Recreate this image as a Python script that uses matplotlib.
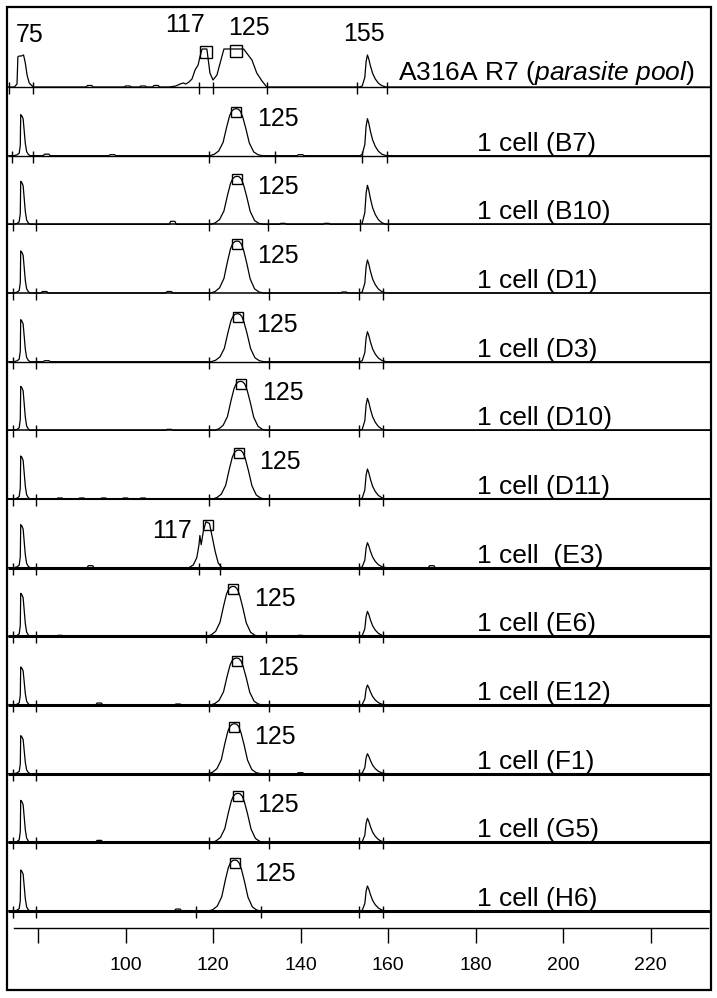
import matplotlib
matplotlib.use('Agg')
import matplotlib.pyplot as plt
from matplotlib.patches import Rectangle
import numpy as np

plt.rcParams['font.family'] = ['Liberation Sans', 'DejaVu Sans']
plt.rcParams['mathtext.fontset'] = 'custom'
plt.rcParams['mathtext.rm'] = 'Liberation Sans'
plt.rcParams['mathtext.it'] = 'Liberation Sans:italic'

# ---------------- data ----------------
samples = ["A316A R7 ($\\it{parasite\\ pool}$)", "1 cell (B7)", "1 cell (B10)", "1 cell (D1)",
           "1 cell (D3)", "1 cell (D10)", "1 cell (D11)", "1 cell  (E3)", "1 cell (E6)",
           "1 cell (E12)", "1 cell (F1)", "1 cell (G5)", "1 cell (H6)"]
allele_label = ["125", "125", "125", "125", "125", "125", "125", "117", "125", "125", "125", "125", "125"]

peak75_center = 76.4
peak75_height = [31, 41, 43, 42, 42, 44, 43, 43, 43, 38, 38, 42, 41]
main_center = [125.3, 125.3, 125.5, 125.5, 125.6, 126.3, 125.9, 118.9, 124.6, 125.4, 124.9, 125.7, 125.0]
main_height = [38, 47, 48, 52, 48, 49, 49, 46, 50, 47, 50, 49, 51]
peak155_center = 155.3
peak155_height = [32, 37, 39, 33, 30, 32, 30, 25, 25, 20, 20, 24, 25]

# shapes (offset from peak top, relative height)
p75_dx = [-1.9, -1.2, -0.7, -0.45, -0.35, -0.1, 0.2, 0.45, 0.7, 1.0, 1.4, 1.8]
p75_rel = [0, 0.02, 0.06, 0.25, 1.0, 0.97, 0.9, 0.6, 0.3, 0.1, 0.03, 0]
p125_dx = [-6.0, -5.0, -4.0, -3.0, -2.2, -1.5, -1.0, -0.5, 0, 0.5, 1.0, 1.5, 2.2, 3.0, 4.0, 5.0, 6.0]
p125_rel = [0, 0.03, 0.1, 0.28, 0.6, 0.85, 0.95, 0.99, 1, 0.99, 0.94, 0.82, 0.58, 0.27, 0.08, 0.02, 0]
p155_dx = [-1.8, -1.2, -0.6, -0.3, 0, 0.3, 0.7, 1.2, 1.8, 2.5, 3.3, 4.3]
p155_rel = [0, 0.03, 0.3, 0.8, 1, 0.88, 0.65, 0.42, 0.25, 0.12, 0.04, 0]
p117_dx = [-4.4, -3.4, -2.6, -2.1, -1.9, -1.6, -1.1, -0.5, 0.3, 0.9, 1.6, 2.3, 3.1]
p117_rel = [0, 0.06, 0.22, 0.5, 0.70, 0.5, 0.8, 1.0, 0.96, 0.68, 0.35, 0.1, 0]

# pool sample (panel 1): explicit trace around 75 and 117/125
pool75_x = [74.6, 75.2, 75.4, 75.7, 76.2, 76.7, 77.1, 77.5, 78.0, 78.9]
pool75_h = [0, 3, 30, 31, 31, 32, 24, 12, 4, 0]
pool_x = [110.0, 111.5, 112.5, 113.2, 113.8, 114.5, 115.2, 115.9, 116.6, 117.0, 117.5, 118.6,
          119.3, 120.0, 120.9, 122.0, 122.5, 127.0, 128.9, 130.0, 131.2, 132.3]
pool_h = [0, 1, 3, 4, 3, 5, 8, 17, 22, 30, 38, 38, 14, 7, 12, 30, 38, 38, 27, 14, 6, 0]

# small baseline bumps (position, height)
bumps = [[(91.8, 1.5), (100.5, 1.0), (104.0, 1.0), (107.0, 1.5)],
         [(82.0, 1.5), (97.0, 1.0), (140.0, 1.0)],
         [(110.8, 3.0), (136.0, 1.0), (146.0, 1.0)],
         [(81.5, 1.5), (110.0, 1.5), (150.0, 1.0)],
         [(82.0, 1.0)], [(110.0, 1.0)],
         [(85.0, 1.0), (90.0, 1.0), (95.0, 1.0), (100.0, 1.0), (104.0, 1.0)],
         [(92.0, 2.0), (170.0, 2.0)], [(85.0, 1.0), (140.0, 1.0)],
         [(94.0, 2.0), (112.0, 1.0)], [(140.0, 1.0)], [(94.0, 2.0)], [(112.0, 2.0)]]

# peak-boundary tick positions
bounds = [[73.4, 78.9, 116.8, 120.0, 132.3, 152.9, 159.8],
          [74.1, 78.9, 119.1, 134.2, 154.1, 159.8],
          [74.2, 79.5, 119.1, 132.6, 153.6, 160.0],
          [74.2, 79.5, 119.1, 132.9, 153.4, 158.9],
          [74.2, 79.5, 119.1, 132.9, 153.4, 158.9],
          [74.2, 79.5, 119.1, 132.9, 153.4, 158.9],
          [74.2, 79.5, 119.1, 132.9, 153.4, 158.9],
          [74.2, 79.5, 116.9, 121.6, 153.4, 158.9],
          [74.2, 79.5, 118.5, 132.0, 153.4, 158.9],
          [74.2, 79.5, 119.1, 132.9, 153.4, 158.9],
          [74.2, 79.5, 119.1, 132.9, 153.4, 158.9],
          [74.2, 79.5, 119.1, 132.9, 153.4, 158.9],
          [74.2, 79.5, 116.0, 131.0, 153.4, 158.9]]

label_x = [0, 130.0, 130.1, 130.1, 129.9, 131.2, 130.5, 106.1, 129.4, 130.1, 129.4, 130.1, 129.4]
xticks = [80, 100, 120, 140, 160, 180, 200, 220]
xtick_labels = ["", "100", "120", "140", "160", "180", "200", "220"]

# ---------------- layout ----------------
W, H = 717, 998
fig = plt.figure(figsize=(W / 100, H / 100), dpi=100)
ax = fig.add_axes([0, 0, 1, 1])
x_left = 80 - 38 / 4.375
x_right = 80 + (W - 38) / 4.375
ax.set_xlim(x_left, x_right)
ax.set_ylim(H, 0)
ax.axis('off')

base0, step = 87.0, 68.67
base_lw = [1.0, 1.0, 1.1, 1.1, 1.0, 1.1, 1.5, 2.2, 2.2, 2.2, 2.2, 2.2, 2.2]
x_start, x_end = 73.2, 233.8

for i in range(len(samples)):
    b = base0 + step * i
    pts = []
    if i == 0:
        pts += list(zip(pool75_x, pool75_h))
        pts += list(zip(pool_x, pool_h))
    else:
        pts += [(peak75_center + d, r * peak75_height[i]) for d, r in zip(p75_dx, p75_rel)]
        if i == 7:
            pts += [(main_center[i] + d, r * main_height[i]) for d, r in zip(p117_dx, p117_rel)]
        else:
            pts += [(main_center[i] + d, r * main_height[i]) for d, r in zip(p125_dx, p125_rel)]
    pts += [(peak155_center + d, r * peak155_height[i]) for d, r in zip(p155_dx, p155_rel)]
    for bx, bh in bumps[i]:
        pts += [(bx - 0.8, 0), (bx - 0.5, bh), (bx + 0.5, bh), (bx + 0.8, 0)]
    pts += [(x_start, 0), (x_end, 0)]
    pts.sort(key=lambda p: p[0])
    xs = np.array([p[0] for p in pts])
    hs = np.array([p[1] for p in pts])
    ax.plot([x_start, x_end], [b, b], color='black', lw=base_lw[i], solid_capstyle='butt')
    ax.plot(xs, b - hs, color='black', lw=0.9)
    ax.plot(bounds[i], [b + 1] * len(bounds[i]), linestyle='none', marker='|',
            color='black', ms=9, mew=1.0)
    # peak-call boxes
    if i == 0:
        ax.plot([118.3, 125.3], [b - 35, b - 36], linestyle='none', marker='s', ms=8,
                mfc='none', mec='black', mew=1.0)
    else:
        ax.plot([main_center[i]], [b - main_height[i] + 3], linestyle='none', marker='s',
                ms=7.5, mfc='none', mec='black', mew=1.0)
        ax.text(label_x[i], b - 30, allele_label[i], fontsize=18, ha='left', va='baseline')
    if i == 0:
        ax.text(162.3, b - 7, samples[i], fontsize=19, ha='left', va='baseline')
    else:
        ax.text(180.3, b - 5, samples[i], fontsize=19, ha='left', va='baseline')

# size labels of the pool trace
ax.text(75.0, 42, "75", fontsize=18, ha='left', va='baseline')
ax.text(109.0, 32, "117", fontsize=18, ha='left', va='baseline')
ax.text(123.4, 35, "125", fontsize=18, ha='left', va='baseline')
ax.text(149.7, 41, "155", fontsize=18, ha='left', va='baseline')

# bottom size axis
ax2 = fig.add_axes([0, (H - 928) / H, 1, 0.001])
ax2.set_xlim(x_left, x_right)
ax2.set_facecolor('none')
for s in ['top', 'left', 'right']:
    ax2.spines[s].set_visible(False)
ax2.spines['bottom'].set_bounds(74.5, 233.1)
ax2.spines['bottom'].set_linewidth(1.0)
ax2.set_yticks([])
ax2.set_xticks(xticks)
ax2.set_xticklabels(xtick_labels)
ax2.tick_params(axis='x', direction='out', length=11, width=1.0, pad=10, labelsize=14)

# outer frame
fig.patches.append(Rectangle((7 / W, 8 / H), 704 / W, 983 / H, transform=fig.transFigure,
                             fill=False, edgecolor='black', lw=1.6))

fig.savefig('out.png', dpi=100, facecolor='white')
